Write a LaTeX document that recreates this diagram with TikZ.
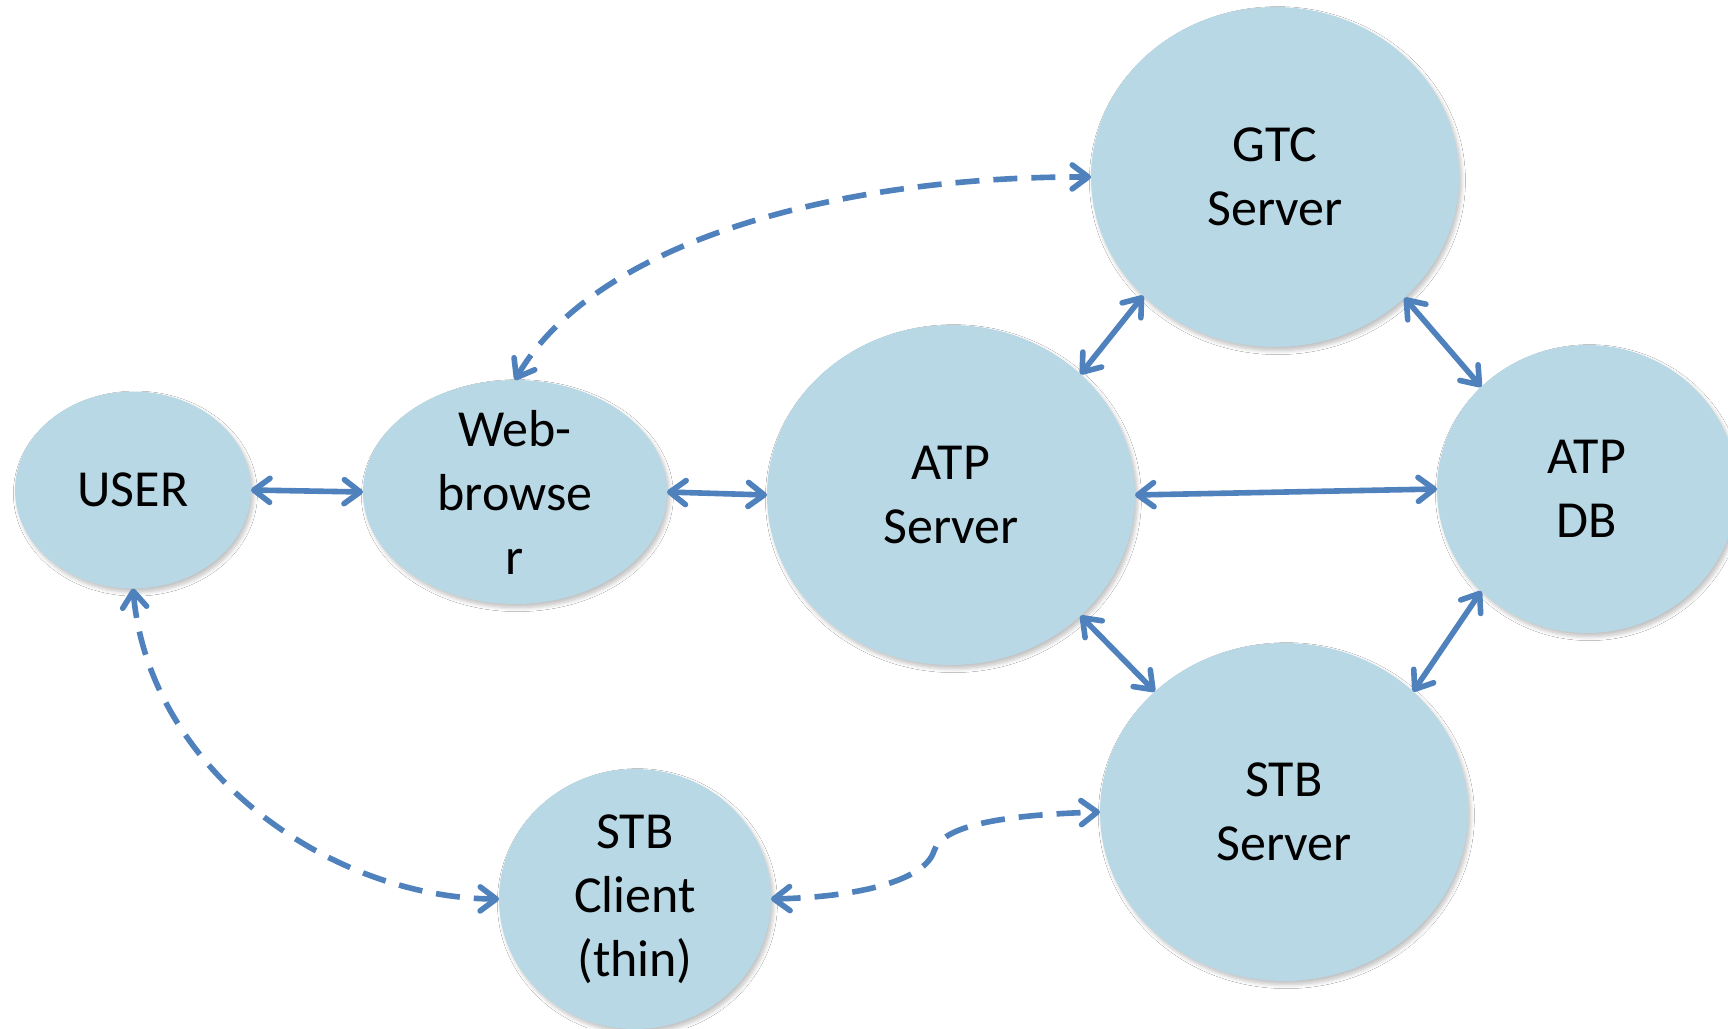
\documentclass[tikz,border=0pt]{standalone}
\usepackage{fontspec}
\setmainfont{Carlito}
\usetikzlibrary{shapes.geometric,arrows.meta,shadows.blur}
\definecolor{bubfill}{HTML}{B9D8E5}
\definecolor{arrowblue}{HTML}{4F81BD}
\tikzset{
  bub/.style={ellipse, fill=bubfill, inner sep=0pt, outer sep=0pt,
    blur shadow={shadow xshift=1.2pt, shadow yshift=-1.8pt, shadow blur steps=6, shadow opacity=25, shadow blur radius=2pt}},
  lbl/.style={align=center, font=\fontsize{26}{32}\selectfont, text=black},
  link/.style={draw=arrowblue, line width=2.8pt,
    {Straight Barb[length=8pt,width=12pt,round]}-{Straight Barb[length=8pt,width=12pt,round]}},
  dlink/.style={link, dash pattern=on 12pt off 7pt}
}
\begin{document}
\begin{tikzpicture}[x=0.5pt,y=-0.5pt]
\fill[white] (0,0) rectangle (1728,1028);
\useasboundingbox (0,0) rectangle (1728,1028);

\node[bub, minimum width=118pt, minimum height=98.5pt, label={[lbl]center:USER}] (user) at (133,490) {};
\node[bub, minimum width=152pt, minimum height=112pt, label={[lbl]center:{Web-\\browse\\r}}] (web) at (515,492) {};
\node[bub, minimum width=184pt, minimum height=170pt, label={[lbl]center:{ATP\\Server}}] (atp) at (951,495) {};
\node[bub, minimum width=184pt, minimum height=170pt, label={[lbl]center:{GTC\\Server}}] (gtc) at (1275,177) {};
\node[bub, minimum width=150pt, minimum height=144pt, label={[lbl]center:{ATP\\DB}}] (db) at (1587,489) {};
\node[bub, minimum width=184pt, minimum height=169pt, label={[lbl]center:{STB\\Server}}] (stbs) at (1284,812) {};
\node[bub, minimum width=136pt, minimum height=130pt, label={[lbl]center:{STB\\Client\\(thin)}}] (stbc) at (635,899) {};

\draw[link] (user.east) -- (web.west);
\draw[link] (web.east) -- (atp.west);
\draw[link] (atp.east) -- (db.west);
\draw[link] (atp.43) -- (gtc.222);
\draw[link] (gtc.317) -- (db.136);
\draw[link] (atp.317) -- (stbs.137);
\draw[link] (db.224) -- (stbs.43);

\draw[dlink] (web.north) .. controls (595,242) and (838,176) .. (gtc.west);
\draw[dlink] (user.south) .. controls (149,771) and (331,898) .. (stbc.west);
\coordinate (kink) at (934,851);
\draw[dlink] (stbc.east) .. controls (860,897) and (925,880) .. (kink)
   .. controls (942,826) and (1000,815) .. (stbs.west);
\end{tikzpicture}
\end{document}
